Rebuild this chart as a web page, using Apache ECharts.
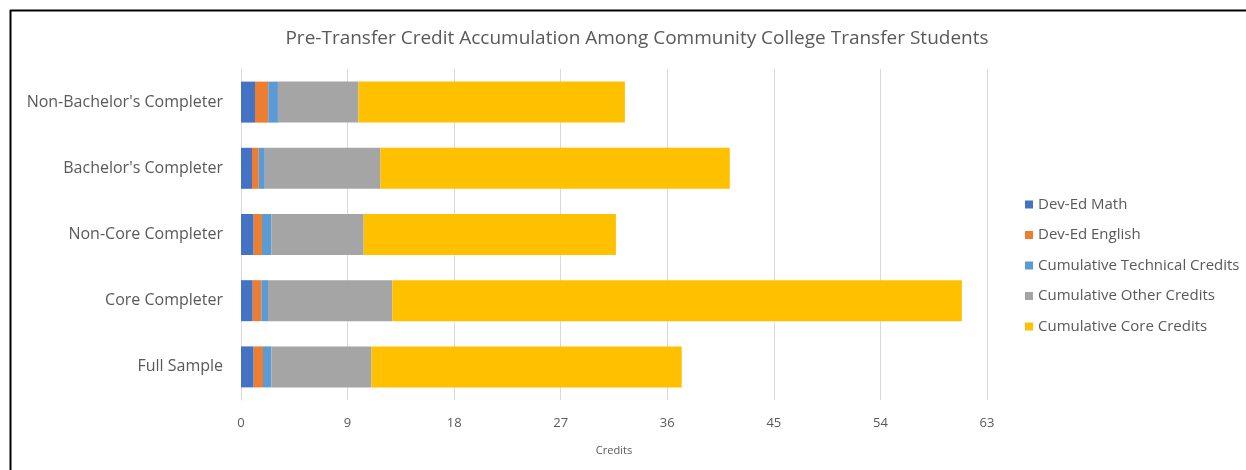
<!DOCTYPE html>
<html>
<head>
<meta charset="utf-8">
<script src="https://cdn.jsdelivr.net/npm/echarts@6/dist/echarts.min.js"></script>
<style>
	html, body { margin: 0; padding: 0; background: #fff; }
	#main { width: 1246px; height: 470px; }
</style>
</head>
<body>
<div id="main"></div>
<script>
	// categories, top to bottom
	var categories = ["Non-Bachelor's Completer", "Bachelor's Completer", "Non-Core Completer", "Core Completer", "Full Sample"];
	var devEdMath = [1.18, 0.93, 1.07, 0.99, 1.07];
	var devEdEnglish = [1.12, 0.57, 0.70, 0.73, 0.79];
	var techCredits = [0.82, 0.51, 0.79, 0.56, 0.71];
	var otherCredits = [6.8, 9.77, 7.8, 10.5, 8.45];
	var coreCredits = [22.5, 29.5, 21.3, 48.1, 26.2];
	var xTicks = [0, 9, 18, 27, 36, 45, 54, 63];

	var textColor = '#595959';
	var font = 'Open Sans';

	function bar(name, data, color) {
		return {
			name: name, type: 'bar', stack: 'total', data: data,
			barWidth: 41,
			itemStyle: { color: color },
			emphasis: { disabled: true }
		};
	}

	var myChart = echarts.init(document.getElementById('main'));
	var option = {
		animation: false,
		textStyle: { fontFamily: font },
		title: {
			text: 'Pre-Transfer Credit Accumulation Among Community College Transfer Students',
			left: 632, top: 24,
			textAlign: 'center',
			textStyle: { color: textColor, fontSize: 19, fontWeight: 'normal', fontFamily: font }
		},
		legend: {
			orient: 'vertical',
			left: 1020, top: 192,
			itemWidth: 8, itemHeight: 8, itemGap: 15.5,
			icon: 'rect',
			textStyle: { color: textColor, fontSize: 15, fontFamily: font },
			data: ['Dev-Ed Math', 'Dev-Ed English', 'Cumulative Technical Credits', 'Cumulative Other Credits', 'Cumulative Core Credits']
		},
		grid: { left: 241, right: 259, top: 69, bottom: 70 },
		xAxis: {
			type: 'value', min: xTicks[0], max: xTicks[xTicks.length - 1], interval: 9,
			name: 'Credits', nameLocation: 'middle', nameGap: 45,
			nameTextStyle: { color: textColor, fontSize: 11 },
			axisLine: { show: false },
			axisTick: { show: false },
			axisLabel: { color: textColor, fontSize: 13, margin: 17 },
			splitLine: { lineStyle: { color: '#d9d9d9' } }
		},
		yAxis: {
			type: 'category', inverse: true, data: categories,
			axisLine: { show: true, lineStyle: { color: '#d9d9d9' } },
			axisTick: { show: false },
			axisLabel: { color: textColor, fontSize: 16, margin: 18 }
		},
		graphic: [
			{ type: 'line', shape: { x1: 10, y1: 10.5, x2: 1246, y2: 10.5 }, style: { stroke: '#000', lineWidth: 2 } },
			{ type: 'line', shape: { x1: 10.5, y1: 10, x2: 10.5, y2: 470 }, style: { stroke: '#000', lineWidth: 2 } }
		],
		series: [
			bar('Dev-Ed Math', devEdMath, '#4472C4'),
			bar('Dev-Ed English', devEdEnglish, '#ED7D31'),
			bar('Cumulative Technical Credits', techCredits, '#5B9BD5'),
			bar('Cumulative Other Credits', otherCredits, '#A5A5A5'),
			bar('Cumulative Core Credits', coreCredits, '#FFC000')
		]
	};
	myChart.setOption(option);
</script>
</body>
</html>
